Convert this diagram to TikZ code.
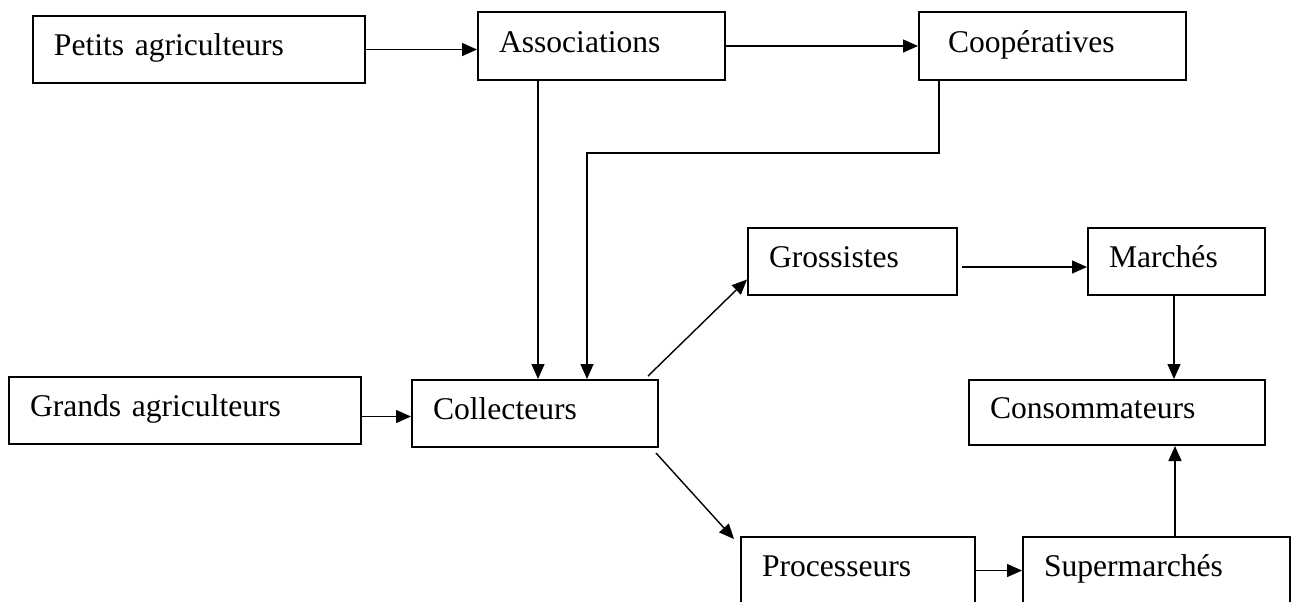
\documentclass[tikz,border=0pt]{standalone}
\usepackage{fontspec}
\setmainfont{Liberation Serif}
\usetikzlibrary{arrows.meta}

\tikzset{
    box/.style={draw, line width=1pt, rectangle, inner xsep=10.5pt, inner ysep=0pt,
        minimum height=33.5pt, align=left, text height=10.5pt, text depth=4.5pt},
    arr/.style={-{Triangle[length=7.5pt,width=6.5pt]}, line width=0.7pt}
}

\begin{document}
\begin{tikzpicture}[x=0.5pt, y=-0.5pt, font=\fontsize{15.8}{18}\selectfont]
    \useasboundingbox (0,0) rectangle (1295,601);

    % Producteurs et regroupements
    \node[box, text width=145pt] (petits) at (199,49.5) {Petits agriculteurs};
    \node[box, text width=102.5pt, minimum height=34pt] (assoc) at (601.5,46) {Associations};
    \node[box, text width=104.5pt, inner xsep=14.5pt, minimum height=34pt] (coop) at (1052.5,46) {Coopératives};
    \node[box, text width=155pt] (grands) at (185,410.5) {Grands agriculteurs};
    \node[box, text width=102pt] (collect) at (535,413.5) {Collecteurs};

    % Distribution
    \node[box, text width=83.5pt] (gross) at (852.5,261.5) {Grossistes};
    \node[box, text width=67.5pt] (marches) at (1176.5,261.5) {Marchés};
    \node[box, text width=127pt, minimum height=32.5pt] (conso) at (1117,412.5) {Consommateurs};
    \node[box, text width=96pt] (proc) at (858,570.5) {Processeurs};
    \node[box, text width=112.5pt] (super) at (1156.5,570.5) {Supermarchés};

    % Flux du haut
    \draw[arr] (petits.east) -- (petits.east -| assoc.west);
    \draw[arr] (assoc.east) -- (coop.west);
    \draw[arr] ([xshift=1.5pt]collect.north |- assoc.south) -- ([xshift=1.5pt]collect.north);
    \coordinate (turn) at (587,153);
    \draw[arr] ([xshift=-56.75pt]coop.south) |- (turn) -- (turn |- collect.north);
    \draw[arr] ([yshift=-3pt]grands.east) -- ([yshift=-1.5pt]collect.west);

    % Flux vers les consommateurs
    \draw[arr] ([xshift=-5.5pt,yshift=1.5pt]collect.north east) -- ([yshift=-9pt]gross.west);
    \draw[arr] ([xshift=-1.5pt,yshift=-2.5pt]collect.south east) -- ([xshift=-3pt,yshift=-1.5pt]proc.north west);
    \draw[arr] ([xshift=2pt,yshift=-2.75pt]gross.east) -- ([yshift=-2.75pt]marches.west);
    \draw[arr] ([xshift=-1.25pt]marches.south) -- ([xshift=-1.25pt]marches.south |- conso.north);
    \draw[arr] (proc.east) -- (super.west);
    \draw[arr] ([xshift=9.25pt]super.north) -- ([xshift=29pt]conso.south);
\end{tikzpicture}
\end{document}
